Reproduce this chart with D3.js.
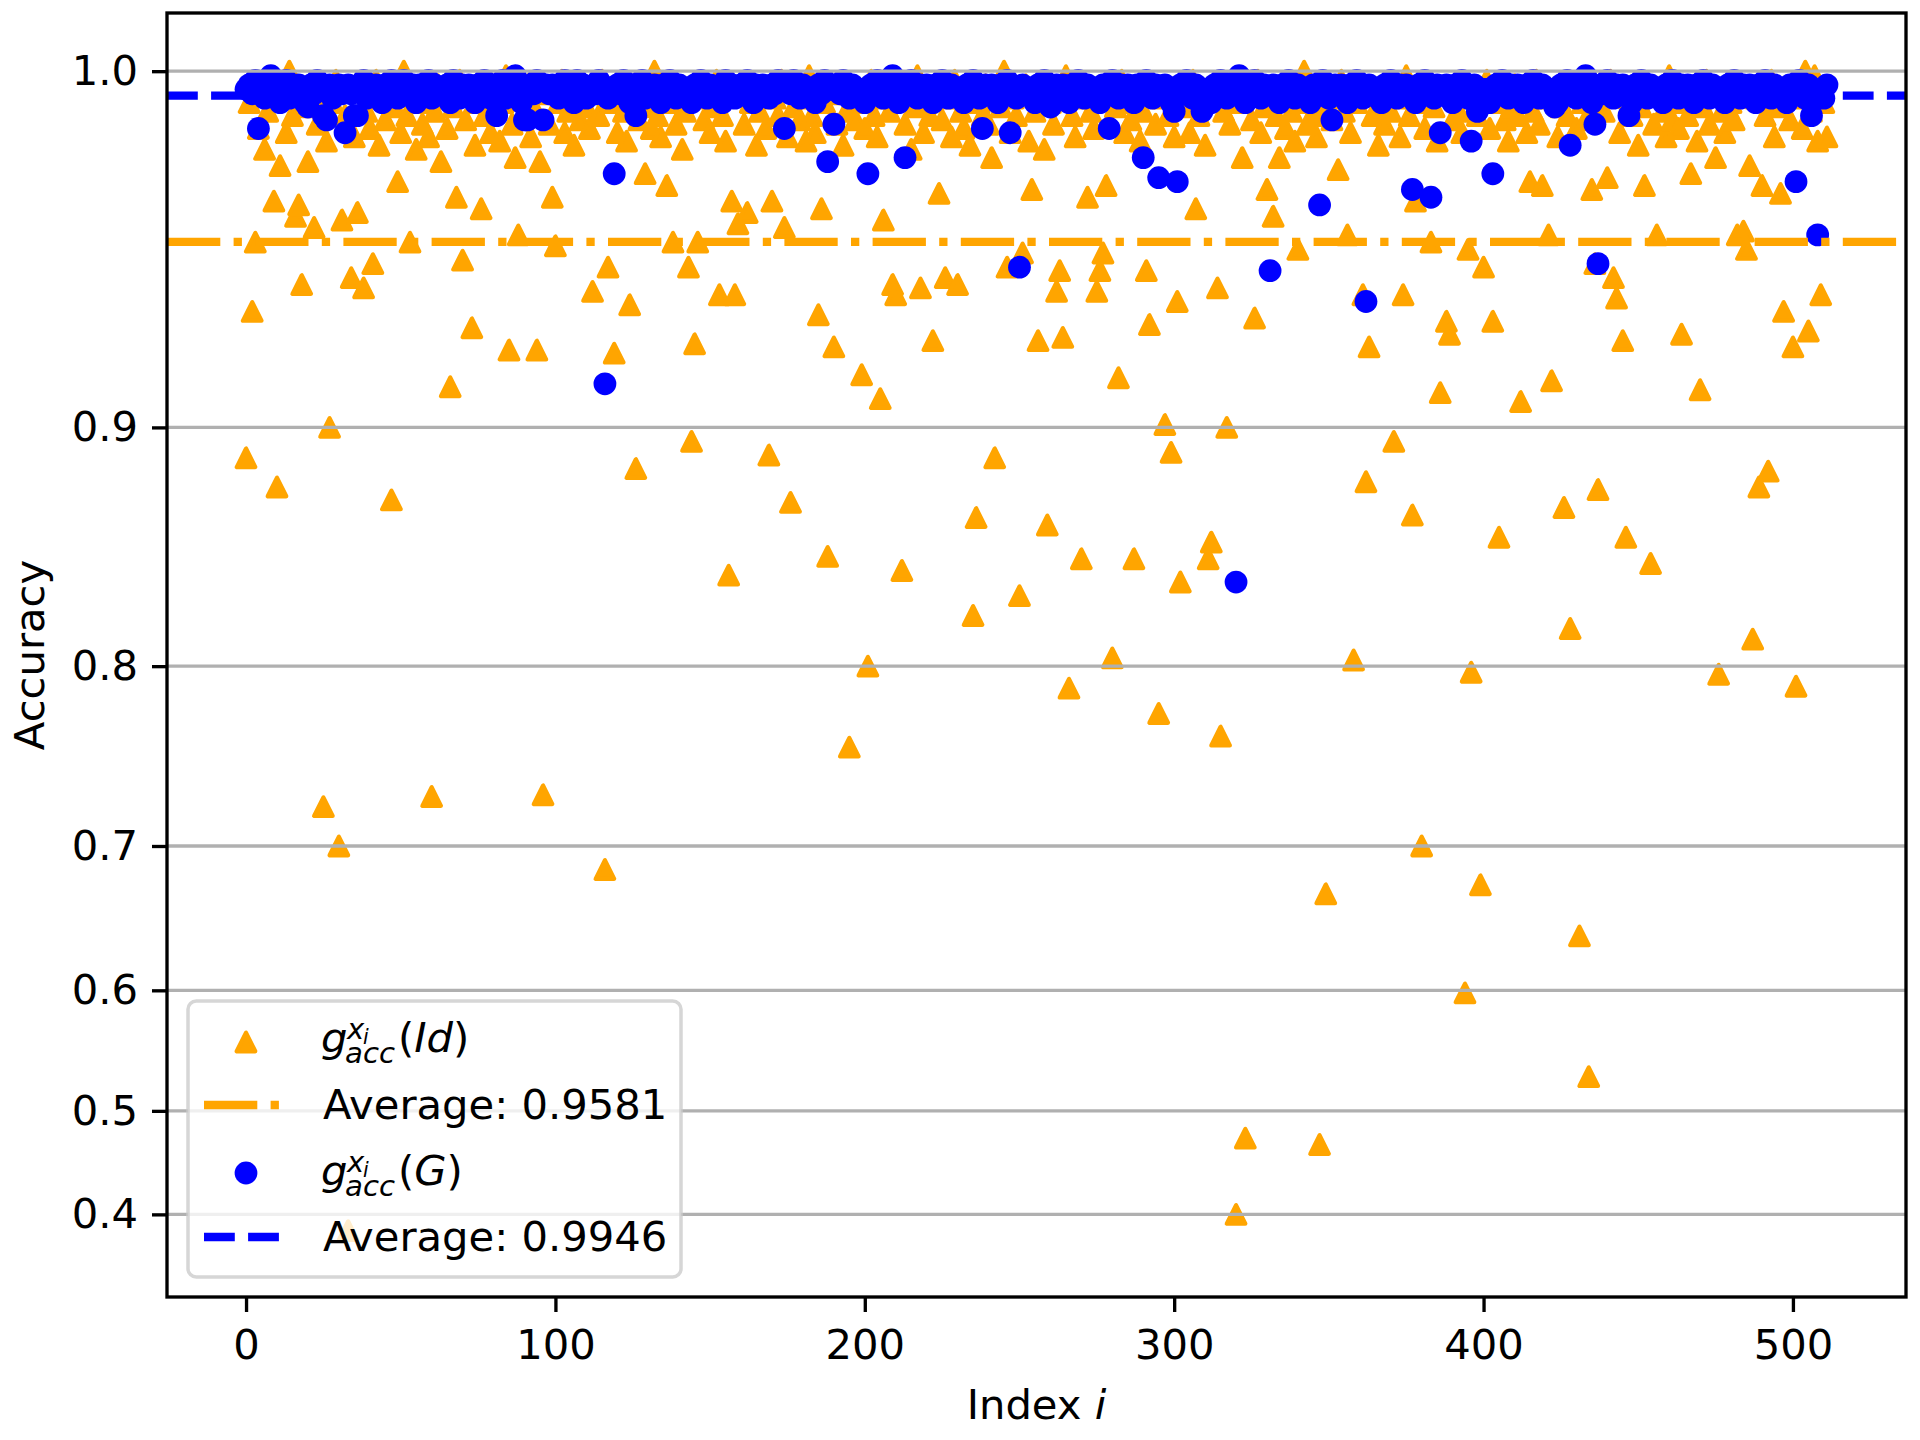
<!DOCTYPE html>
<html>
<head>
<meta charset="utf-8">
<script src="https://cdn.jsdelivr.net/npm/d3@7"></script>
<style>
  body { margin: 0; background: #fff; }
  svg { display: block; }
  text { font-family: "DejaVu Sans", sans-serif; }
</style>
</head>
<body>
<div id="chart"></div>
<script>
// accuracy per index i, identity map (orange triangles)
const accId = [
  .889,.993,.938,.958,.987,.996,.982,.991,.998,.969,.878,.978,.994,.986,1.0,.990,
  .965,.968,.946,.992,.979,.997,.962,.988,.995,.724,.984,.900,.993,.998,.700,.964,
  .990,.383,.948,.985,.966,.996,.945,.991,.987,.952,.998,.983,.994,.989,.997,.873,
  .992,.974,.986,1.0,.990,.958,.995,.982,.993,.988,.996,.985,.730,.991,.997,.979,
  .994,.987,.914,.992,.970,.998,.953,.989,.995,.933,.983,.993,.967,.990,.997,.986,
  .991,.996,.984,.993,.999,.926,.988,.980,.960,.994,.990,.997,.985,.992,.926,.979,
  .731,.995,.988,.970,.957,.993,.998,.986,.991,.996,.983,.994,.989,.997,.992,.987,
  .944,.995,.990,.998,.685,.951,.993,.925,.986,.996,.991,.984,.940,.994,.885,.989,
  .997,.976,.992,.987,1.0,.990,.985,.995,.973,.993,.958,.988,.996,.982,.991,.951,
  .895,.928,.958,.994,.989,.997,.986,.992,.998,.943,.990,.984,.842,.969,.943,.963,
  .995,.988,.966,.993,.997,.983,.991,.996,.987,.890,.969,.994,.990,.998,.962,.985,
  .872,.992,.996,.989,.994,.984,.999,.990,.986,.937,.967,.993,.850,.997,.927,.988,
  .995,.983,.991,.758,.996,.989,.993,.918,.987,.800,.998,.990,.985,.910,.964,.994,
  .991,.946,.943,.997,.844,.988,.995,.982,.992,.999,.945,.986,.993,.990,.929,.996,
  .971,.989,.948,.994,.985,.998,.946,.991,.987,.996,.983,.824,.866,.993,.990,.997,
  .988,.980,.889,.995,.992,1.0,.951,.986,.994,.990,.833,.955,.997,.984,.972,.991,
  .929,.996,.982,.863,.993,.988,.944,.950,.930,.999,.789,.990,.985,.994,.849,.997,
  .970,.991,.987,.944,.950,.955,.973,.995,.804,.992,.917,.998,.986,.993,.989,.849,
  .996,.984,.991,.950,.934,.997,.988,.776,.994,.901,.990,.891,.985,.941,.839,.995,
  .992,.986,.998,.967,.990,.994,.983,.849,.856,.996,.945,.764,.991,.900,.988,.997,
  .400,.993,.980,.475,.995,.989,.936,.998,.986,.992,.972,.996,.965,.990,.980,.994,
  .987,.997,.991,.984,.956,.993,1.0,.988,.995,.990,.985,.469,.992,.669,.996,.989,
  .994,.977,.998,.991,.960,.986,.803,.993,.997,.943,.880,.927,.990,.995,.983,.992,
  .988,.996,.991,.895,.994,.985,.943,.999,.990,.867,.969,.993,.700,.987,.996,.958,
  .992,.984,.912,.995,.935,.931,.989,.997,.991,.986,.598,.956,.797,.994,.990,.675,
  .951,.998,.987,.935,.993,.858,.996,.989,.984,.992,.997,.990,.909,.995,.986,.974,
  .991,.998,.988,.973,.994,.960,.916,.996,.985,.992,.870,.990,.818,.997,.987,.640,
  .993,.989,.530,.972,.952,.877,.995,.991,.975,.998,.948,.942,.986,.929,.858,.994,
  .990,.996,.983,.992,.973,.997,.847,.988,.960,.995,.991,.985,.999,.989,.993,.987,
  .931,.996,.990,.976,.994,.984,.913,.992,.998,.988,.995,.980,.796,.991,.986,.997,
  .993,.989,.960,.996,.961,.956,.978,.813,.994,.878,.973,.990,.884,.998,.985,.992,
  .971,.938,.996,.989,.927,.790,.994,.987,1.0,.932,.991,.999,.984,.943,.993,.985
];

// accuracy per index i, map G (blue circles)
const accG = [
  .996,.997,.995,.998,.987,.996,.994,.997,.999,.995,.997,.993,.996,.998,.994,.997,
  .995,.997,.996,.993,.992,.997,.995,.998,.996,.990,.989,.997,.994,.996,.997,.995,
  .986,.997,.995,.990,.990,.996,.998,.994,.997,.995,.997,.996,.993,.997,.995,.998,
  .996,.994,.997,.998,.995,.996,.997,.993,.997,.995,.996,.998,.994,.997,.996,.996,
  .995,.997,.993,.998,.996,.994,.997,.995,.997,.996,.993,.997,.995,.998,.996,.994,
  .997,.990,.996,.998,.994,.997,.995,.999,.996,.993,.989,.989,.997,.995,.998,.996,
  .989,.997,.995,.997,.996,.994,.997,.998,.995,.996,.993,.998,.996,.997,.994,.996,
  .996,.995,.998,.997,.915,.994,.996,.976,.997,.995,.998,.996,.993,.997,.990,.996,
  .998,.994,.997,.995,.997,.996,.993,.997,.995,.998,.996,.994,.997,.995,.996,.996,
  .993,.997,.995,.998,.996,.994,.997,.996,.995,.996,.993,.998,.996,.997,.994,.995,
  .997,.995,.998,.996,.993,.997,.995,.997,.996,.994,.997,.995,.998,.996,.987,.997,
  .995,.998,.996,.994,.997,.995,.996,.996,.993,.997,.995,.998,.979,.996,.988,.997,
  .995,.998,.996,.994,.997,.996,.995,.996,.993,.976,.997,.995,.998,.996,.994,.997,
  .995,.999,.996,.993,.997,.980,.995,.998,.996,.994,.997,.995,.997,.996,.993,.997,
  .995,.998,.996,.994,.997,.995,.996,.996,.993,.997,.995,.998,.996,.994,.987,.997,
  .995,.997,.996,.993,.997,.995,.998,.986,.996,.994,.951,.997,.995,.996,.996,.993,
  .997,.995,.998,.996,.992,.994,.997,.995,.997,.996,.993,.997,.995,.998,.996,.994,
  .997,.995,.996,.996,.993,.997,.995,.987,.998,.996,.994,.997,.995,.997,.996,.993,
  .997,.995,.980,.998,.996,.994,.997,.975,.995,.997,.996,.993,.991,.974,.997,.995,
  .998,.996,.994,.997,.995,.991,.996,.996,.993,.997,.995,.998,.996,.994,.997,.995,
  .839,.999,.996,.993,.997,.995,.998,.996,.994,.997,.995,.950,.997,.996,.993,.997,
  .995,.998,.996,.994,.997,.995,.996,.996,.993,.997,.995,.968,.998,.996,.994,.989,
  .997,.995,.997,.996,.993,.997,.995,.998,.996,.994,.941,.997,.995,.996,.996,.993,
  .997,.995,.998,.996,.994,.997,.995,.997,.996,.972,.993,.997,.995,.998,.996,.970,
  .994,.997,.986,.995,.997,.996,.993,.997,.995,.998,.996,.994,.984,.997,.991,.995,
  .996,.996,.993,.976,.997,.995,.998,.996,.994,.997,.995,.997,.996,.993,.997,.995,
  .998,.996,.994,.997,.995,.996,.996,.992,.993,.997,.995,.998,.983,.996,.994,.997,
  .995,.999,.996,.993,.988,.952,.997,.995,.998,.996,.994,.997,.995,.997,.996,.990,
  .993,.997,.995,.998,.996,.994,.997,.995,.996,.996,.993,.997,.995,.998,.996,.994,
  .997,.995,.997,.996,.993,.997,.995,.998,.996,.994,.997,.995,.996,.996,.993,.997,
  .995,.998,.996,.994,.997,.995,.997,.996,.993,.997,.995,.998,.996,.994,.997,.995,
  .996,.996,.993,.997,.995,.974,.998,.996,.994,.997,.990,.995,.960,.996,.994,.997
];

const avgId = 0.9581;
const avgG = 0.9946;

const yTicks = [1.0, 0.9, 0.8, 0.7, 0.6, 0.5, 0.4];
const xTicks = [0, 100, 200, 300, 400, 500];

const W = 1920, H = 1440;
const box = { left: 167, right: 1906, top: 13, bottom: 1297 };
const FS = 41.7;              // 10pt at 300 dpi
const LW = 3.33;              // 0.8pt
const ORANGE = "#FFA500", BLUE = "#0000FF";
const OFF = 1.16;             // y axis is logarithmic in (OFF - accuracy)

const svg = d3.select("#chart").append("svg")
  .attr("width", W).attr("height", H)
  .attr("viewBox", `0 0 ${W} ${H}`);

var x = d3.scaleLinear()
  .domain([-25.55, 536.55])
  .range([box.left, box.right]);

var yLog = d3.scaleLog()
  .domain([0.1478, 0.8506])
  .range([box.top, box.bottom]);
const y = v => yLog(OFF - v);

svg.append("defs").append("clipPath").attr("id", "clip")
  .append("rect")
  .attr("x", box.left).attr("y", box.top)
  .attr("width", box.right - box.left).attr("height", box.bottom - box.top);

const plot = svg.append("g").attr("clip-path", "url(#clip)");

// triangle '^' centered on its box, like matplotlib
const half = 9.3;
const triPath = `M0,${-half}L${-half},${half}L${half},${half}Z`;

// orange triangles
plot.append("g").selectAll("path")
  .data(accId)
  .enter().append("path")
  .attr("d", triPath)
  .attr("transform", (d, i) => `translate(${x(i)},${y(d)})`)
  .attr("fill", ORANGE)
  .attr("stroke", ORANGE)
  .attr("stroke-width", 4.17)
  .attr("stroke-linejoin", "round");

// blue circles
plot.append("g").selectAll("circle")
  .data(accG)
  .enter().append("circle")
  .attr("cx", (d, i) => x(i))
  .attr("cy", d => y(d))
  .attr("r", 11.4)
  .attr("fill", BLUE);

// horizontal grid
svg.append("g").selectAll("line")
  .data(yTicks)
  .enter().append("line")
  .attr("x1", box.left).attr("x2", box.right)
  .attr("y1", d => y(d)).attr("y2", d => y(d))
  .attr("stroke", "#b0b0b0")
  .attr("stroke-width", LW);

// average lines
const DASHDOT = "53.3,13.3,8.3,13.3";
const DASHED = "30.8,13.3";
plot.append("line")
  .attr("x1", box.left).attr("x2", box.right)
  .attr("y1", y(avgId)).attr("y2", y(avgId))
  .attr("stroke", ORANGE).attr("stroke-width", 8.33)
  .attr("stroke-dasharray", DASHDOT);
plot.append("line")
  .attr("x1", box.left).attr("x2", box.right)
  .attr("y1", y(avgG)).attr("y2", y(avgG))
  .attr("stroke", BLUE).attr("stroke-width", 8.33)
  .attr("stroke-dasharray", DASHED);

// axes
function styleAxis(g) {
  g.select(".domain").remove();
  g.selectAll(".tick line").attr("stroke", "#000").attr("stroke-width", LW);
  g.selectAll(".tick text").attr("fill", "#000")
    .style("font-size", FS + "px")
    .style("font-family", "'DejaVu Sans', sans-serif");
}

svg.append("g")
  .attr("transform", `translate(${box.left},0)`)
  .call(d3.axisLeft(yLog)
    .tickValues(yTicks.map(v => OFF - v))
    .tickFormat(t => d3.format(".1f")(OFF - t))
    .tickSize(15).tickPadding(14))
  .call(styleAxis);

svg.append("g")
  .attr("transform", `translate(0,${box.bottom})`)
  .call(d3.axisBottom(x)
    .tickValues(xTicks)
    .tickFormat(d3.format("d"))
    .tickSize(15).tickPadding(17))
  .call(styleAxis);

// spines
svg.append("rect")
  .attr("x", box.left).attr("y", box.top)
  .attr("width", box.right - box.left).attr("height", box.bottom - box.top)
  .attr("fill", "none").attr("stroke", "#000").attr("stroke-width", LW);

// axis labels
svg.append("text")
  .attr("transform", `translate(44,${(box.top + box.bottom) / 2}) rotate(-90)`)
  .attr("text-anchor", "middle")
  .style("font-size", FS + "px")
  .text("Accuracy");

const xl = svg.append("text")
  .attr("x", (box.left + box.right) / 2).attr("y", 1419)
  .attr("text-anchor", "middle")
  .style("font-size", FS + "px");
xl.append("tspan").text("Index ");
xl.append("tspan").attr("font-style", "italic").text("i");

// legend
const lg = svg.append("g");
lg.append("rect")
  .attr("x", 188).attr("y", 1001).attr("width", 493).attr("height", 276)
  .attr("rx", 8.3)
  .attr("fill", "#fff").attr("fill-opacity", 0.8)
  .attr("stroke", "#cccccc").attr("stroke-opacity", 0.8).attr("stroke-width", 3.5);

const rows = [
  { mark: "tri", y: 1042, base: 1052, arg: "Id" },
  { mark: "dashdot", y: 1105, base: 1119, text: "Average: " + avgId.toFixed(4) },
  { mark: "dot", y: 1173, base: 1185, arg: "G" },
  { mark: "dash", y: 1237, base: 1251, text: "Average: " + avgG.toFixed(4) }
];

rows.forEach(r => {
  if (r.mark === "tri") {
    lg.append("path").attr("d", triPath)
      .attr("transform", `translate(246,${r.y})`)
      .attr("fill", ORANGE).attr("stroke", ORANGE)
      .attr("stroke-width", 4.17).attr("stroke-linejoin", "round");
  } else if (r.mark === "dot") {
    lg.append("circle").attr("cx", 246).attr("cy", r.y).attr("r", 11.4).attr("fill", BLUE);
  } else {
    lg.append("line")
      .attr("x1", 204).attr("x2", 279).attr("y1", r.y).attr("y2", r.y)
      .attr("stroke", r.mark === "dash" ? BLUE : ORANGE)
      .attr("stroke-width", 8.33)
      .attr("stroke-dasharray", r.mark === "dash" ? DASHED : DASHDOT);
  }

  if (r.text) {
    lg.append("text").attr("x", 323).attr("y", r.base)
      .style("font-size", FS + "px").text(r.text);
  } else {
    // g^{x_i}_{acc}(arg)
    const it = (s, xx, yy, fs) => lg.append("text")
      .attr("x", xx).attr("y", yy)
      .attr("font-style", "italic")
      .style("font-size", fs + "px").text(s);
    it("g", 321, r.base, FS);
    it("x", 347, r.base - 13, FS * 0.7);
    it("i", 363, r.base - 8, FS * 0.49);
    it("acc", 345, r.base + 11, FS * 0.7);
    const t = lg.append("text").attr("x", 398).attr("y", r.base)
      .style("font-size", FS + "px");
    t.append("tspan").text("(");
    t.append("tspan").attr("font-style", "italic").text(r.arg);
    t.append("tspan").text(")");
  }
});
</script>
</body>
</html>
